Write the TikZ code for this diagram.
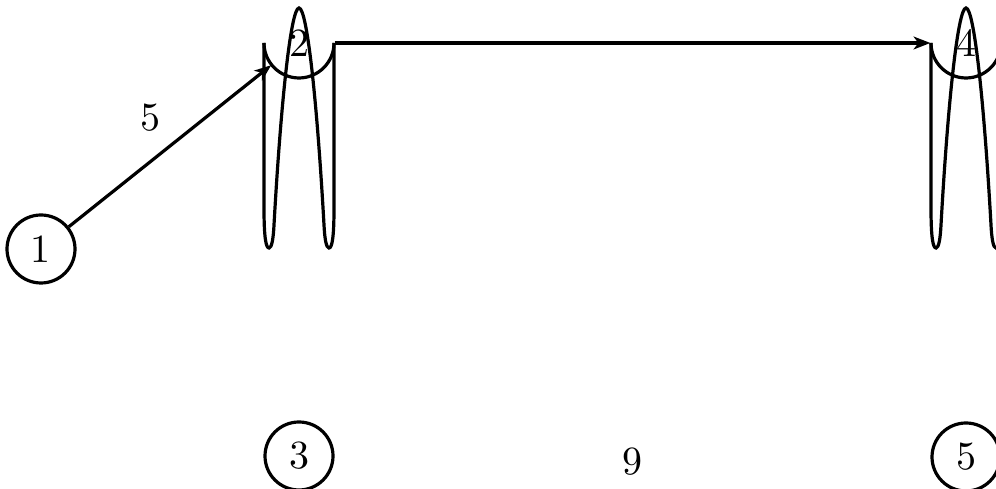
\documentclass[tikz,border=0pt]{standalone}
\usepackage{tikz}
\usetikzlibrary{arrows.meta, positioning, calc}
\tikzset{
  vtx/.style={circle, draw, minimum size=17pt, inner sep=0pt, line width=0.8pt},
  hidvtx/.style={circle, minimum size=17pt, inner sep=0pt},
  arc/.style={line width=0.8pt, -{Stealth[length=4.2pt, width=3.2pt, inset=1.2pt]}},
}

\begin{document}
\begin{tikzpicture}[x={(0.25pt,0)}, y={(0,-0.25pt)}, line width=0.8pt]
  \useasboundingbox (0,0) rectangle (996,489);
  \node[vtx] (n1) at (41,249) {1};
  \node[hidvtx] (n2) at (299,43) {2};
  \node[vtx] (n3) at (299,456) {3};
  \node[hidvtx] (n4) at (966,43) {4};
  \node[vtx] (n5) at (966,457) {5};
  % the bent shapes round 2 and 4
  \foreach \v in {n2,n4}{
    \begin{scope}[shift={(\v)}]
      \draw (-35,0) .. controls (-35,19.3) and (-19.3,35) .. (0,35)
        .. controls (19.3,35) and (35,19.3) .. (35,0);
      \draw (-35,0) -- (-35,165) .. controls (-35,195) and (-33,205) .. (-30,205)
        .. controls (-27,205) and (-25.6,194) .. (-25,182)
        .. controls (-18,57) and (-8,-35) .. (0,-35)
        .. controls (8,-35) and (18,57) .. (25,182)
        .. controls (25.6,194) and (27,205) .. (30,205)
        .. controls (33,205) and (35,195) .. (35,165) -- (35,0);
    \end{scope}
  }
  \draw[arc] (n1) -- node[xshift=-5pt, yshift=7pt] (w12) {5} (n2);
  \draw[arc] (n2.east) -- (n4.west);
  \node[yshift=-1.4pt] (w35) at ($(n3)!0.5!(n5)$) {9};
\end{tikzpicture}
\end{document}
